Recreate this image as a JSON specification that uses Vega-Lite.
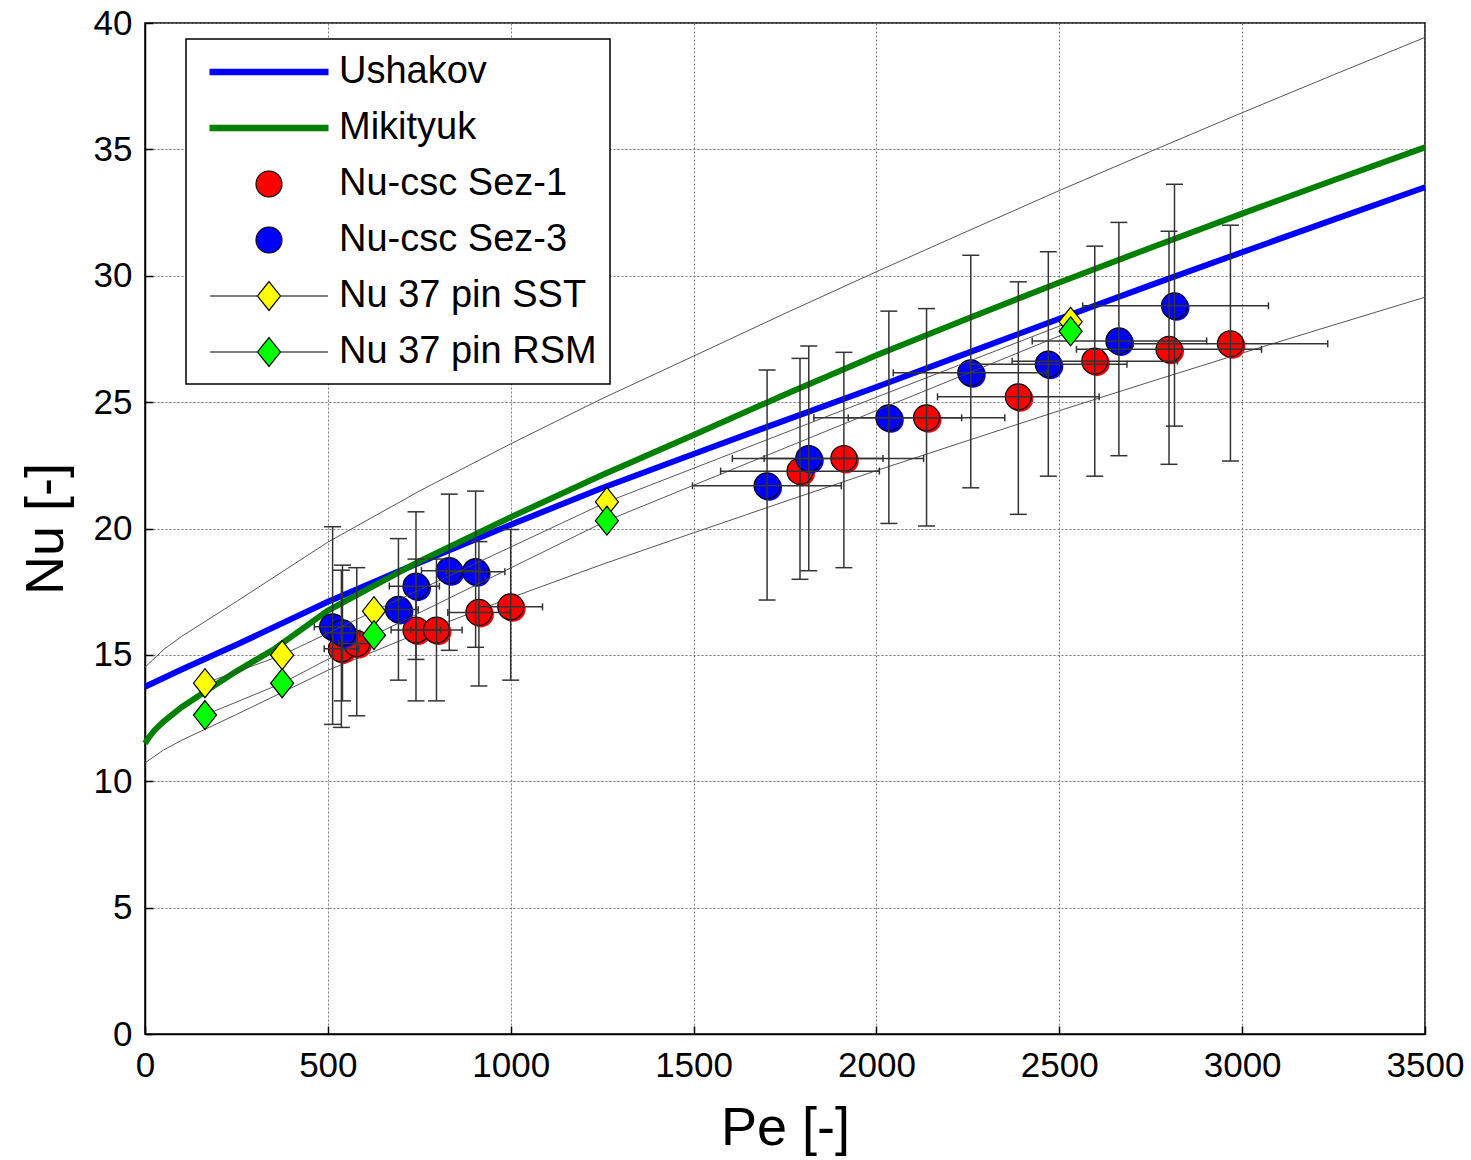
{
  "$schema": "https://vega.github.io/schema/vega-lite/v6.json",
  "width": 1280,
  "height": 1011,
  "autosize": "none",
  "padding": {"left": 145, "top": 23, "right": 46, "bottom": 126},
  "background": "white",
  "datasets": {
    "curves": [
      {"series": "Ushakov", "Pe": 0, "Nu": 13.74},
      {"series": "Ushakov", "Pe": 100, "Nu": 14.42},
      {"series": "Ushakov", "Pe": 250, "Nu": 15.4},
      {"series": "Ushakov", "Pe": 500, "Nu": 17.1},
      {"series": "Ushakov", "Pe": 750, "Nu": 18.65},
      {"series": "Ushakov", "Pe": 1000, "Nu": 20.15},
      {"series": "Ushakov", "Pe": 1250, "Nu": 21.6},
      {"series": "Ushakov", "Pe": 1500, "Nu": 22.95},
      {"series": "Ushakov", "Pe": 1750, "Nu": 24.28},
      {"series": "Ushakov", "Pe": 2000, "Nu": 25.6},
      {"series": "Ushakov", "Pe": 2250, "Nu": 26.95},
      {"series": "Ushakov", "Pe": 2500, "Nu": 28.3},
      {"series": "Ushakov", "Pe": 2750, "Nu": 29.63},
      {"series": "Ushakov", "Pe": 3000, "Nu": 30.93},
      {"series": "Ushakov", "Pe": 3250, "Nu": 32.22},
      {"series": "Ushakov", "Pe": 3500, "Nu": 33.5},
      {"series": "Mikityuk", "Pe": 0, "Nu": 11.5},
      {"series": "Mikityuk", "Pe": 10, "Nu": 11.72},
      {"series": "Mikityuk", "Pe": 25, "Nu": 12.0},
      {"series": "Mikityuk", "Pe": 50, "Nu": 12.35},
      {"series": "Mikityuk", "Pe": 100, "Nu": 12.93},
      {"series": "Mikityuk", "Pe": 175, "Nu": 13.65},
      {"series": "Mikityuk", "Pe": 250, "Nu": 14.35},
      {"series": "Mikityuk", "Pe": 350, "Nu": 15.2},
      {"series": "Mikityuk", "Pe": 500, "Nu": 16.75},
      {"series": "Mikityuk", "Pe": 750, "Nu": 18.7},
      {"series": "Mikityuk", "Pe": 1000, "Nu": 20.45},
      {"series": "Mikityuk", "Pe": 1250, "Nu": 22.12},
      {"series": "Mikityuk", "Pe": 1500, "Nu": 23.7},
      {"series": "Mikityuk", "Pe": 1750, "Nu": 25.3},
      {"series": "Mikityuk", "Pe": 2000, "Nu": 26.85},
      {"series": "Mikityuk", "Pe": 2250, "Nu": 28.31},
      {"series": "Mikityuk", "Pe": 2500, "Nu": 29.73},
      {"series": "Mikityuk", "Pe": 2750, "Nu": 31.11},
      {"series": "Mikityuk", "Pe": 3000, "Nu": 32.46},
      {"series": "Mikityuk", "Pe": 3250, "Nu": 33.78},
      {"series": "Mikityuk", "Pe": 3500, "Nu": 35.08}
    ],
    "bands": [
      {"band": "upper", "Pe": 0, "Nu": 14.51},
      {"band": "upper", "Pe": 50, "Nu": 15.2},
      {"band": "upper", "Pe": 100, "Nu": 15.73},
      {"band": "upper", "Pe": 250, "Nu": 17.11},
      {"band": "upper", "Pe": 500, "Nu": 19.46},
      {"band": "upper", "Pe": 750, "Nu": 21.48},
      {"band": "upper", "Pe": 1000, "Nu": 23.35},
      {"band": "upper", "Pe": 1250, "Nu": 25.14},
      {"band": "upper", "Pe": 1500, "Nu": 26.82},
      {"band": "upper", "Pe": 1750, "Nu": 28.51},
      {"band": "upper", "Pe": 2000, "Nu": 30.16},
      {"band": "upper", "Pe": 2250, "Nu": 31.77},
      {"band": "upper", "Pe": 2500, "Nu": 33.37},
      {"band": "upper", "Pe": 2750, "Nu": 34.92},
      {"band": "upper", "Pe": 3000, "Nu": 36.45},
      {"band": "upper", "Pe": 3250, "Nu": 37.95},
      {"band": "upper", "Pe": 3500, "Nu": 39.43},
      {"band": "lower", "Pe": 0, "Nu": 10.73},
      {"band": "lower", "Pe": 50, "Nu": 11.23},
      {"band": "lower", "Pe": 100, "Nu": 11.62},
      {"band": "lower", "Pe": 250, "Nu": 12.64},
      {"band": "lower", "Pe": 500, "Nu": 14.39},
      {"band": "lower", "Pe": 750, "Nu": 15.87},
      {"band": "lower", "Pe": 1000, "Nu": 17.26},
      {"band": "lower", "Pe": 1250, "Nu": 18.58},
      {"band": "lower", "Pe": 1500, "Nu": 19.83},
      {"band": "lower", "Pe": 1750, "Nu": 21.07},
      {"band": "lower", "Pe": 2000, "Nu": 22.29},
      {"band": "lower", "Pe": 2250, "Nu": 23.48},
      {"band": "lower", "Pe": 2500, "Nu": 24.66},
      {"band": "lower", "Pe": 2750, "Nu": 25.81},
      {"band": "lower", "Pe": 3000, "Nu": 26.94},
      {"band": "lower", "Pe": 3250, "Nu": 28.05},
      {"band": "lower", "Pe": 3500, "Nu": 29.15}
    ],
    "exp": [
      {"series": "Nu-csc Sez-1", "Pe": 537, "Nu": 15.24, "lo": 12.13, "hi": 18.35, "pelo": 490, "pehi": 584},
      {"series": "Nu-csc Sez-1", "Pe": 579, "Nu": 15.45, "lo": 12.59, "hi": 18.45, "pelo": 529, "pehi": 629},
      {"series": "Nu-csc Sez-1", "Pe": 741, "Nu": 15.98, "lo": 13.18, "hi": 18.79, "pelo": 673, "pehi": 809},
      {"series": "Nu-csc Sez-1", "Pe": 797, "Nu": 15.98, "lo": 13.18, "hi": 18.79, "pelo": 727, "pehi": 867},
      {"series": "Nu-csc Sez-1", "Pe": 913, "Nu": 16.68, "lo": 13.77, "hi": 19.48, "pelo": 828, "pehi": 998},
      {"series": "Nu-csc Sez-1", "Pe": 1000, "Nu": 16.9, "lo": 14.0, "hi": 19.96, "pelo": 913, "pehi": 1087},
      {"series": "Nu-csc Sez-1", "Pe": 1791, "Nu": 22.27, "lo": 17.99, "hi": 26.73, "pelo": 1574, "pehi": 2008},
      {"series": "Nu-csc Sez-1", "Pe": 1911, "Nu": 22.77, "lo": 18.45, "hi": 26.97, "pelo": 1693, "pehi": 2129},
      {"series": "Nu-csc Sez-1", "Pe": 2137, "Nu": 24.38, "lo": 20.1, "hi": 28.7, "pelo": 1923, "pehi": 2351},
      {"series": "Nu-csc Sez-1", "Pe": 2388, "Nu": 25.21, "lo": 20.56, "hi": 29.76, "pelo": 2167, "pehi": 2609},
      {"series": "Nu-csc Sez-1", "Pe": 2597, "Nu": 26.62, "lo": 22.07, "hi": 31.17, "pelo": 2371, "pehi": 2823},
      {"series": "Nu-csc Sez-1", "Pe": 2800, "Nu": 27.09, "lo": 22.54, "hi": 31.76, "pelo": 2547, "pehi": 3053},
      {"series": "Nu-csc Sez-1", "Pe": 2968, "Nu": 27.31, "lo": 22.67, "hi": 32.0, "pelo": 2702, "pehi": 3234},
      {"series": "Nu-csc Sez-3", "Pe": 513, "Nu": 16.11, "lo": 12.25, "hi": 20.07, "pelo": 463, "pehi": 563},
      {"series": "Nu-csc Sez-3", "Pe": 540, "Nu": 15.87, "lo": 13.18, "hi": 18.55, "pelo": 492, "pehi": 588},
      {"series": "Nu-csc Sez-3", "Pe": 693, "Nu": 16.8, "lo": 14.0, "hi": 19.6, "pelo": 627, "pehi": 747},
      {"series": "Nu-csc Sez-3", "Pe": 741, "Nu": 17.72, "lo": 14.82, "hi": 20.66, "pelo": 668, "pehi": 805},
      {"series": "Nu-csc Sez-3", "Pe": 832, "Nu": 18.33, "lo": 15.18, "hi": 21.36, "pelo": 756, "pehi": 916},
      {"series": "Nu-csc Sez-3", "Pe": 904, "Nu": 18.29, "lo": 15.3, "hi": 21.48, "pelo": 823, "pehi": 984},
      {"series": "Nu-csc Sez-3", "Pe": 1701, "Nu": 21.69, "lo": 17.17, "hi": 26.27, "pelo": 1497, "pehi": 1904},
      {"series": "Nu-csc Sez-3", "Pe": 1815, "Nu": 22.77, "lo": 18.33, "hi": 27.22, "pelo": 1606, "pehi": 2018},
      {"series": "Nu-csc Sez-3", "Pe": 2034, "Nu": 24.38, "lo": 20.2, "hi": 28.6, "pelo": 1829, "pehi": 2233},
      {"series": "Nu-csc Sez-3", "Pe": 2258, "Nu": 26.16, "lo": 21.61, "hi": 30.81, "pelo": 2046, "pehi": 2466},
      {"series": "Nu-csc Sez-3", "Pe": 2470, "Nu": 26.5, "lo": 22.07, "hi": 30.95, "pelo": 2255, "pehi": 2685},
      {"series": "Nu-csc Sez-3", "Pe": 2663, "Nu": 27.42, "lo": 22.88, "hi": 32.11, "pelo": 2426, "pehi": 2903},
      {"series": "Nu-csc Sez-3", "Pe": 2815, "Nu": 28.81, "lo": 24.05, "hi": 33.62, "pelo": 2564, "pehi": 3072}
    ],
    "pins": [
      {"series": "Nu 37 pin SST", "Pe": 164, "Nu": 13.88},
      {"series": "Nu 37 pin SST", "Pe": 375, "Nu": 14.99},
      {"series": "Nu 37 pin SST", "Pe": 626, "Nu": 16.73},
      {"series": "Nu 37 pin SST", "Pe": 1263, "Nu": 21.05},
      {"series": "Nu 37 pin SST", "Pe": 2531, "Nu": 28.18},
      {"series": "Nu 37 pin RSM", "Pe": 164, "Nu": 12.62},
      {"series": "Nu 37 pin RSM", "Pe": 375, "Nu": 13.88},
      {"series": "Nu 37 pin RSM", "Pe": 626, "Nu": 15.78},
      {"series": "Nu 37 pin RSM", "Pe": 1263, "Nu": 20.31},
      {"series": "Nu 37 pin RSM", "Pe": 2531, "Nu": 27.8}
    ]
  },
  "layer": [
    {
      "data": {"name": "bands"},
      "mark": {"type": "line", "stroke": "#555555", "strokeWidth": 1},
      "encoding": {
        "x": {"field": "Pe", "type": "quantitative", "scale": {"domain": [0, 3500], "nice": false, "zero": false},
              "axis": {"title": "Pe [-]", "format": "d", "values": [0, 500, 1000, 1500, 2000, 2500, 3000, 3500]}},
        "y": {"field": "Nu", "type": "quantitative", "scale": {"domain": [0, 40], "nice": false, "zero": false},
              "axis": {"title": "Nu [-]", "format": "d", "values": [0, 5, 10, 15, 20, 25, 30, 35, 40]}},
        "detail": {"field": "band", "type": "nominal"}
      }
    },
    {
      "data": {"name": "curves"},
      "transform": [{"filter": "datum.series === 'Ushakov'"}],
      "mark": {"type": "line", "stroke": "#0000ff", "strokeWidth": 6},
      "encoding": {
        "x": {"field": "Pe", "type": "quantitative"},
        "y": {"field": "Nu", "type": "quantitative"}
      }
    },
    {
      "data": {"name": "curves"},
      "transform": [{"filter": "datum.series === 'Mikityuk'"}],
      "mark": {"type": "line", "stroke": "#008000", "strokeWidth": 6},
      "encoding": {
        "x": {"field": "Pe", "type": "quantitative"},
        "y": {"field": "Nu", "type": "quantitative"}
      }
    },
    {
      "data": {"name": "exp"},
      "transform": [{"filter": "datum.series === 'Nu-csc Sez-1'"}],
      "mark": {"type": "point", "shape": "circle", "filled": true, "fill": "#ff0000", "strokeWidth": 0, "size": 676, "opacity": 1, "xOffset": 2, "yOffset": 2},
      "encoding": {"x": {"field": "Pe", "type": "quantitative"}, "y": {"field": "Nu", "type": "quantitative"}}
    },
    {
      "data": {"name": "exp"},
      "transform": [{"filter": "datum.series === 'Nu-csc Sez-1'"}],
      "mark": {"type": "point", "shape": "circle", "filled": true, "fill": "#ff0000", "stroke": "#000000", "strokeWidth": 1.2, "size": 676, "opacity": 1},
      "encoding": {"x": {"field": "Pe", "type": "quantitative"}, "y": {"field": "Nu", "type": "quantitative"}}
    },
    {
      "data": {"name": "exp"},
      "transform": [{"filter": "datum.series === 'Nu-csc Sez-3'"}],
      "mark": {"type": "point", "shape": "circle", "filled": true, "fill": "#0000ff", "strokeWidth": 0, "size": 676, "opacity": 1, "xOffset": 2, "yOffset": 2},
      "encoding": {"x": {"field": "Pe", "type": "quantitative"}, "y": {"field": "Nu", "type": "quantitative"}}
    },
    {
      "data": {"name": "exp"},
      "transform": [{"filter": "datum.series === 'Nu-csc Sez-3'"}],
      "mark": {"type": "point", "shape": "circle", "filled": true, "fill": "#0000ff", "stroke": "#000000", "strokeWidth": 1.2, "size": 676, "opacity": 1},
      "encoding": {"x": {"field": "Pe", "type": "quantitative"}, "y": {"field": "Nu", "type": "quantitative"}}
    },
    {
      "data": {"name": "exp"},
      "mark": {"type": "rule", "stroke": "#333333", "strokeWidth": 1.5},
      "encoding": {
        "x": {"field": "Pe", "type": "quantitative"},
        "y": {"field": "lo", "type": "quantitative"},
        "y2": {"field": "hi"}
      }
    },
    {
      "data": {"name": "exp"},
      "mark": {"type": "tick", "orient": "horizontal", "size": 17, "thickness": 1.5, "color": "#333333", "opacity": 1},
      "encoding": {"x": {"field": "Pe", "type": "quantitative"}, "y": {"field": "lo", "type": "quantitative"}}
    },
    {
      "data": {"name": "exp"},
      "mark": {"type": "tick", "orient": "horizontal", "size": 17, "thickness": 1.5, "color": "#333333", "opacity": 1},
      "encoding": {"x": {"field": "Pe", "type": "quantitative"}, "y": {"field": "hi", "type": "quantitative"}}
    },
    {
      "data": {"name": "exp"},
      "mark": {"type": "rule", "stroke": "#333333", "strokeWidth": 1.5},
      "encoding": {
        "y": {"field": "Nu", "type": "quantitative"},
        "x": {"field": "pelo", "type": "quantitative"},
        "x2": {"field": "pehi"}
      }
    },
    {
      "data": {"name": "exp"},
      "mark": {"type": "tick", "orient": "vertical", "size": 7, "thickness": 1.5, "color": "#333333", "opacity": 1},
      "encoding": {"x": {"field": "pelo", "type": "quantitative"}, "y": {"field": "Nu", "type": "quantitative"}}
    },
    {
      "data": {"name": "exp"},
      "mark": {"type": "tick", "orient": "vertical", "size": 7, "thickness": 1.5, "color": "#333333", "opacity": 1},
      "encoding": {"x": {"field": "pehi", "type": "quantitative"}, "y": {"field": "Nu", "type": "quantitative"}}
    },
    {
      "data": {"name": "pins"},
      "mark": {"type": "line", "stroke": "#444444", "strokeWidth": 0.9},
      "encoding": {
        "x": {"field": "Pe", "type": "quantitative"},
        "y": {"field": "Nu", "type": "quantitative"},
        "detail": {"field": "series", "type": "nominal"}
      }
    },
    {
      "data": {"name": "pins"},
      "transform": [{"filter": "datum.series === 'Nu 37 pin SST'"}],
      "mark": {"type": "point", "shape": "M0,-1.26L1,0L0,1.26L-1,0Z", "filled": true, "fill": "#ffff00", "stroke": "#000000", "strokeWidth": 1.2, "size": 529, "opacity": 1},
      "encoding": {"x": {"field": "Pe", "type": "quantitative"}, "y": {"field": "Nu", "type": "quantitative"}}
    },
    {
      "data": {"name": "pins"},
      "transform": [{"filter": "datum.series === 'Nu 37 pin RSM'"}],
      "mark": {"type": "point", "shape": "M0,-1.26L1,0L0,1.26L-1,0Z", "filled": true, "fill": "#00ff00", "stroke": "#000000", "strokeWidth": 1.2, "size": 529, "opacity": 1},
      "encoding": {"x": {"field": "Pe", "type": "quantitative"}, "y": {"field": "Nu", "type": "quantitative"}}
    },
    {
      "data": {"name": "exp"},
      "transform": [{"filter": "false"}],
      "mark": {"type": "point", "filled": true, "opacity": 1, "strokeWidth": 1.2},
      "encoding": {
        "shape": {
          "field": "series", "type": "nominal",
          "scale": {
            "domain": ["Ushakov", "Mikityuk", "Nu-csc Sez-1", "Nu-csc Sez-3", "Nu 37 pin SST", "Nu 37 pin RSM"],
            "range": [
              "M-3.1,-0.14H3.1V0.14H-3.1Z",
              "M-3.1,-0.14H3.1V0.14H-3.1Z",
              "M0.684,0C0.684,0.378,0.378,0.684,0,0.684C-0.378,0.684,-0.684,0.378,-0.684,0C-0.684,-0.378,-0.378,-0.684,0,-0.684C0.378,-0.684,0.684,-0.378,0.684,0Z",
              "M0.684,0C0.684,0.378,0.378,0.684,0,0.684C-0.378,0.684,-0.684,0.378,-0.684,0C-0.684,-0.378,-0.378,-0.684,0,-0.684C0.378,-0.684,0.684,-0.378,0.684,0Z",
              "M-3.1,0H-0.605M0.605,0H3.1M0,-0.763L0.605,0L0,0.763L-0.605,0Z",
              "M-3.1,0H-0.605M0.605,0H3.1M0,-0.763L0.605,0L0,0.763L-0.605,0Z"
            ]
          },
          "legend": {"title": null, "orient": "none", "legendX": 41, "legendY": 16}
        },
        "fill": {
          "field": "series", "type": "nominal",
          "scale": {
            "domain": ["Ushakov", "Mikityuk", "Nu-csc Sez-1", "Nu-csc Sez-3", "Nu 37 pin SST", "Nu 37 pin RSM"],
            "range": ["#0000ff", "#008000", "#ff0000", "#0000ff", "#ffff00", "#00ff00"]
          },
          "legend": {"title": null, "orient": "none", "legendX": 41, "legendY": 16}
        },
        "stroke": {
          "field": "series", "type": "nominal",
          "scale": {
            "domain": ["Ushakov", "Mikityuk", "Nu-csc Sez-1", "Nu-csc Sez-3", "Nu 37 pin SST", "Nu 37 pin RSM"],
            "range": ["#0000ff", "#008000", "#000000", "#000000", "#000000", "#000000"]
          },
          "legend": {"title": null, "orient": "none", "legendX": 41, "legendY": 16}
        }
      }
    }
  ],
  "config": {
    "font": "Liberation Sans",
    "view": {"stroke": "#000000", "strokeWidth": 1.5},
    "axis": {
      "labelFont": "Liberation Sans",
      "titleFont": "Liberation Sans",
      "labelFontSize": 35,
      "titleFontSize": 54,
      "titleFontWeight": "normal",
      "labelColor": "#000000",
      "titleColor": "#000000",
      "labelFlush": false,
      "labelOverlap": false,
      "grid": true,
      "gridColor": "#777777",
      "gridDash": [2, 2],
      "gridWidth": 1,
      "gridOpacity": 1,
      "domainColor": "#000000",
      "domainWidth": 1.5,
      "tickColor": "#000000",
      "tickSize": -8,
      "tickWidth": 1.5
    },
    "axisX": {"labelPadding": 22, "titlePadding": 18},
    "axisY": {"labelPadding": 21, "titlePadding": 20},
    "legend": {
      "padding": 13,
      "strokeColor": "#000000",
      "strokeWidth": 1.5,
      "fillColor": "#ffffff",
      "labelFont": "Liberation Sans",
      "labelFontSize": 38,
      "labelColor": "#000000",
      "labelLimit": 0,
      "symbolSize": 1444,
      "symbolStrokeWidth": 1.2,
      "rowPadding": 17,
      "labelOffset": 50,
      "symbolOffset": 50
    }
  }
}
